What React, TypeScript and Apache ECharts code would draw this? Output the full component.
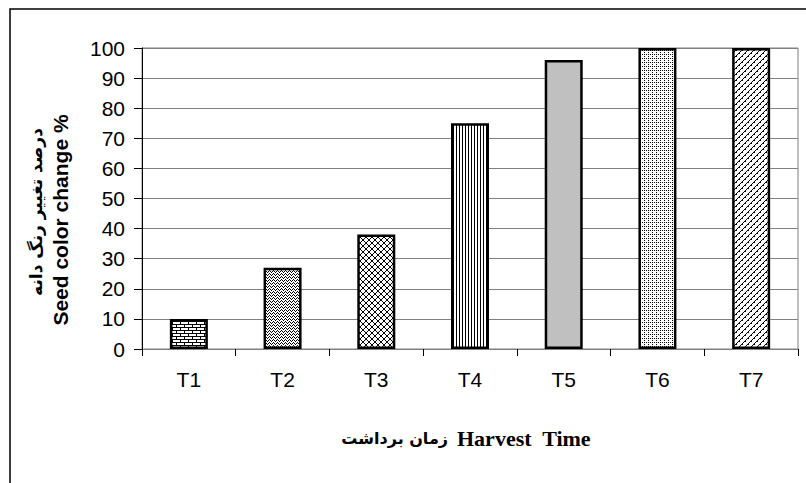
import React, { useEffect, useRef } from "react";
import * as echarts from "echarts";

const categories = ["T1", "T2", "T3", "T4", "T5", "T6", "T7"];
const values = [10, 27, 38, 75, 96, 100, 100];
const yTicks = { min: 0, max: 100, interval: 10 };
const yTitleFa = "درصد تغییر رنگ دانه";
const yTitleEn = "Seed color change %";
const xTitleFa = "زمان برداشت";
const xTitleEn = "Harvest  Time";

function makeTile(w: number, h: number, pts: Array<[number, number]>, bg = "#fff", fg = "#000") {
  const c = document.createElement("canvas");
  c.width = w;
  c.height = h;
  const ctx = c.getContext("2d")!;
  ctx.fillStyle = bg;
  ctx.fillRect(0, 0, w, h);
  ctx.fillStyle = fg;
  pts.forEach(([x, y]) => ctx.fillRect(x, y, 1, 1));
  return c;
}

function brick() {
  const pts: Array<[number, number]> = [];
  for (let x = 0; x < 8; x++) { pts.push([x, 0]); pts.push([x, 3]); }
  pts.push([0, 1], [0, 2], [4, 4], [4, 5]);
  return makeTile(8, 6, pts);
}
function wave() {
  return makeTile(4, 3, [[0, 1], [1, 0], [2, 1], [3, 2]]);
}
function lattice() {
  return makeTile(6, 6, [[2, 0], [3, 0], [1, 1], [4, 1], [0, 2], [5, 2], [0, 3], [5, 3], [1, 4], [4, 4], [2, 5], [3, 5]]);
}
function vlines() {
  return makeTile(3, 1, [[0, 0]]);
}
function dots() {
  return makeTile(4, 4, [[0, 0], [2, 2], [0, 2]]);
}
function diag() {
  return makeTile(6, 6, [[0, 5], [1, 4], [2, 3], [3, 2], [4, 1], [5, 0], [1, 5], [4, 2]]);
}

export default function App() {
  const ref = useRef<HTMLDivElement>(null);
  useEffect(() => {
    if (!ref.current) return;
    const chart = echarts.init(ref.current, undefined, { renderer: "svg" });
    const fills: any[] = [
      { image: brick(), repeat: "repeat" },
      { image: wave(), repeat: "repeat" },
      { image: lattice(), repeat: "repeat" },
      { image: vlines(), repeat: "repeat" },
      "#c0c0c0",
      { image: dots(), repeat: "repeat" },
      { image: diag(), repeat: "repeat" },
    ];
    chart.setOption({
      animation: false,
      backgroundColor: "#fff",
      grid: {
        left: 142,
        right: 8,
        top: 48,
        bottom: 134,
        show: true,
        borderColor: "#808080",
        borderWidth: 1,
      },
      xAxis: {
        type: "category",
        data: categories,
        axisLine: { lineStyle: { color: "#808080", width: 1 } },
        axisTick: { show: true, length: 7, lineStyle: { color: "#000" } },
        axisLabel: {
          margin: 20,
          color: "#000",
          fontSize: 21,
          fontFamily: "Liberation Sans",
        },
      },
      yAxis: {
        type: "value",
        min: yTicks.min,
        max: yTicks.max,
        interval: yTicks.interval,
        axisLine: { show: true, lineStyle: { color: "#000", width: 1 } },
        axisTick: { show: true, length: 8, lineStyle: { color: "#000" } },
        splitLine: { lineStyle: { color: "#808080", width: 1 } },
        axisLabel: {
          margin: 17,
          color: "#000",
          fontSize: 21,
          fontFamily: "Liberation Sans",
        },
      },
      series: [
        {
          type: "bar",
          barWidth: 38,
          data: values.map((v, i) => ({
            value: v,
            itemStyle: { color: fills[i], borderColor: "#000", borderWidth: 2.5 },
          })),
        },
      ],
      graphic: [
        {
          type: "rect",
          shape: { x: 10, y: 9, width: 1000, height: 1000 },
          style: { fill: "none", stroke: "#000", lineWidth: 1.5 },
          silent: true,
        },
        {
          type: "text",
          x: 36,
          y: 212,
          rotation: Math.PI / 2,
          style: {
            text: yTitleFa,
            fontFamily: "DejaVu Sans",
            fontWeight: "bold",
            fontSize: 17,
            fill: "#000",
            align: "center",
            verticalAlign: "middle",
          },
        },
        {
          type: "text",
          x: 60,
          y: 220,
          rotation: Math.PI / 2,
          style: {
            text: yTitleEn,
            fontFamily: "Liberation Sans",
            fontWeight: "bold",
            fontSize: 21,
            fill: "#000",
            align: "center",
            verticalAlign: "middle",
          },
        },
        {
          type: "text",
          x: 448,
          y: 438,
          style: {
            text: xTitleFa,
            fontFamily: "DejaVu Sans",
            fontWeight: "bold",
            fontSize: 16,
            fill: "#000",
            align: "right",
            verticalAlign: "middle",
          },
        },
        {
          type: "text",
          x: 457,
          y: 438,
          style: {
            text: xTitleEn,
            fontFamily: "Liberation Serif",
            fontWeight: "bold",
            fontSize: 22,
            fill: "#000",
            align: "left",
            verticalAlign: "middle",
          },
        },
      ],
    });
    return () => chart.dispose();
  }, []);
  return <div ref={ref} style={{ width: 806, height: 483, position: "absolute", left: 0, top: 0 }} />;
}
